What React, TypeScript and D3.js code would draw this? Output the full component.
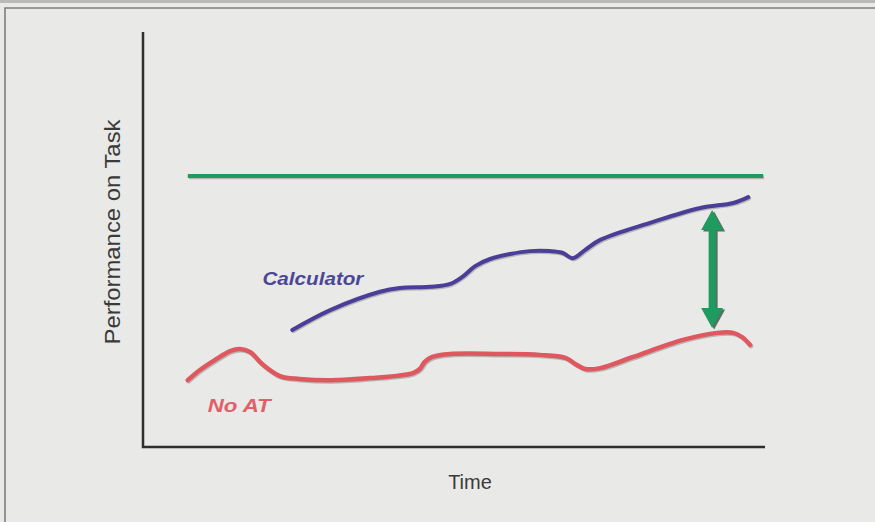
import React from "react";
import * as d3 from "d3";

// Time (0-100) vs Performance (0-100)
const targetTime = [7.2, 99.7];
const targetPerf = [65.3, 65.3];

const calcTime = [24.0, 30.1, 38.1, 41.3, 46.1, 49.4, 51.5, 53.4, 55.8, 59.0, 62.2, 65.4, 67.4, 69.1, 71.1, 73.5, 81.5, 89.6, 94.9, 97.3];
const calcPerf = [28.2, 33.0, 37.4, 38.3, 38.6, 39.3, 41.2, 43.6, 45.3, 46.5, 47.2, 47.2, 46.8, 45.5, 47.5, 49.9, 54.0, 57.6, 58.8, 60.2];

const noAtTime = [7.2, 9.2, 11.6, 14.0, 15.6, 17.2, 19.3, 22.0, 25.2, 30.1, 36.5, 43.4, 44.5, 45.3, 46.5, 49.4, 57.4, 63.8, 67.9, 69.5, 71.1, 73.5, 78.8, 86.8, 92.3, 94.9, 96.3, 97.6];
const noAtPerf = [16.1, 18.6, 21.0, 23.1, 23.6, 22.9, 19.8, 17.1, 16.4, 16.1, 16.6, 17.8, 18.8, 20.5, 21.7, 22.4, 22.4, 22.2, 21.5, 20.0, 18.8, 19.0, 21.7, 25.8, 27.5, 27.5, 26.5, 24.6];

const gapTime = 91.5;
const gapPerf = [57.1, 28.7];

const seriesLabels = ["Calculator", "No AT"];
const labelTime = [19.2, 10.4];
const labelPerf = [39.0, 8.4];
const xTitle = "Time";
const yTitle = "Performance on Task";

const W = 875;
const H = 522;

export default function App() {
  const x = d3.scaleLinear().domain([0, 100]).range([143, 765]);
  const y = d3.scaleLinear().domain([0, 100]).range([447, 32]);

  const line = d3
    .line<[number, number]>()
    .x((d) => x(d[0]))
    .y((d) => y(d[1]))
    .curve(d3.curveCatmullRom.alpha(0.5));

  const target = targetTime.map((t, i) => [t, targetPerf[i]] as [number, number]);
  const calc = calcTime.map((t, i) => [t, calcPerf[i]] as [number, number]);
  const noAt = noAtTime.map((t, i) => [t, noAtPerf[i]] as [number, number]);

  const green = "#1f9b5f";
  const blue = "#4a3e98";
  const red = "#e0585f";

  // arrow geometry
  const ax = x(gapTime);
  const aTop = y(gapPerf[0]);
  const aBot = y(gapPerf[1]);
  const headL = 20;
  const headW = 11;
  const shaftW = 3.5;
  const arrowPath =
    `M${ax},${aTop} L${ax + headW},${aTop + headL} L${ax + shaftW},${aTop + headL} ` +
    `L${ax + shaftW},${aBot - headL} L${ax + headW},${aBot - headL} L${ax},${aBot} ` +
    `L${ax - headW},${aBot - headL} L${ax - shaftW},${aBot - headL} L${ax - shaftW},${aTop + headL} ` +
    `L${ax - headW},${aTop + headL} Z`;

  const font = "'Liberation Sans', Arial, Helvetica, sans-serif";

  return (
    <svg
      width={W}
      height={H}
      style={{ position: "absolute", left: 0, top: 0, display: "block" }}
    >
      <rect x={0} y={0} width={W} height={H} fill="#e9e9e7" />
      <rect x={0} y={0} width={W} height={3} fill="#b9b9b7" />
      {/* outer frame */}
      <path d={`M5,${H} L5,8 L${W},8`} fill="none" stroke="#7d7d7d" strokeWidth={1.6} />

      {/* axes */}
      <path
        d={`M${x(0)},${y(100)} L${x(0)},${y(0)} L${x(100)},${y(0)}`}
        fill="none"
        stroke="#2e2e2e"
        strokeWidth={2.5}
      />

      {/* shadows */}
      <g transform="translate(1,1.2)" opacity={0.25}>
        <path d={line(target) || ""} fill="none" stroke="#222" strokeWidth={4} />
        <path d={line(calc) || ""} fill="none" stroke="#222" strokeWidth={4} strokeLinecap="round" />
        <path d={line(noAt) || ""} fill="none" stroke="#222" strokeWidth={4.5} strokeLinecap="round" />
      </g>

      <path d={line(target) || ""} fill="none" stroke={green} strokeWidth={4} />
      <path d={line(calc) || ""} fill="none" stroke={blue} strokeWidth={4} strokeLinecap="round" strokeLinejoin="round" />
      <path d={line(noAt) || ""} fill="none" stroke={red} strokeWidth={4.5} strokeLinecap="round" strokeLinejoin="round" />

      {/* gap arrow */}
      <path d={arrowPath} fill="#1a3a28" transform="translate(2,1.5)" opacity={0.7} />
      <path d={arrowPath} fill={green} />

      {/* series labels */}
      <text
        x={x(labelTime[0])}
        y={y(labelPerf[0])}
        fill="#4b4796"
        fontFamily={font}
        fontWeight="bold"
        fontStyle="italic"
        fontSize={18}
        textLength={101}
        lengthAdjust="spacingAndGlyphs"
      >
        {seriesLabels[0]}
      </text>
      <text
        x={x(labelTime[1])}
        y={y(labelPerf[1])}
        fill="#e0606a"
        fontFamily={font}
        fontWeight="bold"
        fontStyle="italic"
        fontSize={18}
        textLength={63}
        lengthAdjust="spacingAndGlyphs"
      >
        {seriesLabels[1]}
      </text>

      {/* axis titles */}
      <text
        x={470}
        y={489}
        textAnchor="middle"
        fill="#3a3a3a"
        fontFamily={font}
        fontSize={20}
      >
        {xTitle}
      </text>
      <text
        transform={`translate(120,232) rotate(-90)`}
        textAnchor="middle"
        fill="#3a3a3a"
        fontFamily={font}
        fontSize={22}
        textLength={225}
        lengthAdjust="spacingAndGlyphs"
      >
        {yTitle}
      </text>
    </svg>
  );
}
